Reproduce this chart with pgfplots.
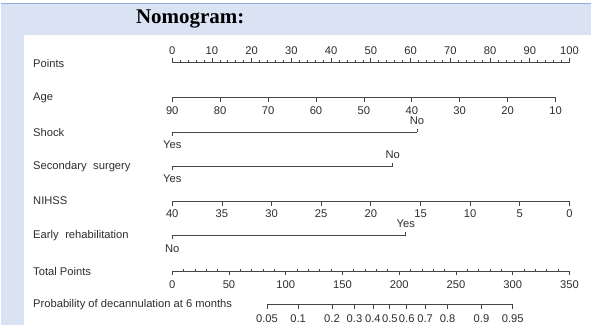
\documentclass[border=0pt]{standalone}
\usepackage{pgfplots}
\pgfplotsset{compat=1.18}
\usepackage{pgfplotstable}
\usepackage{fontspec}
\setmainfont{Liberation Sans}
\newfontfamily\titlefont{Liberation Serif}
\definecolor{bgblue}{HTML}{DAE3F3}
\definecolor{topline}{HTML}{8FAADC}
\definecolor{ink}{HTML}{2E2E2E}
\definecolor{lineink}{HTML}{444444}

% Points scale (v = value, k = 1 major / 0 minor)
\pgfplotstableread{
v k
0 1
10 1
20 1
30 1
40 1
50 1
60 1
70 1
80 1
90 1
100 1
}\ptsmaj
\pgfplotstableread{
v k
2 0
4 0
6 0
8 0
12 0
14 0
16 0
18 0
22 0
24 0
26 0
28 0
32 0
34 0
36 0
38 0
42 0
44 0
46 0
48 0
52 0
54 0
56 0
58 0
62 0
64 0
66 0
68 0
72 0
74 0
76 0
78 0
82 0
84 0
86 0
88 0
92 0
94 0
96 0
98 0
}\ptsmin
% Age
\pgfplotstableread{
v k
90 1
80 1
70 1
60 1
50 1
40 1
30 1
20 1
10 1
}\agetab
% NIHSS
\pgfplotstableread{
v k
40 1
35 1
30 1
25 1
20 1
15 1
10 1
5 1
0 1
}\nihss
% Binary predictors: label, points, side (1 below, -1 above)
\pgfplotstableread{
lab pts d
Yes 0 1
No 61.6 -1
}\shock
\pgfplotstableread{
lab pts d
Yes 0 1
No 55.5 -1
}\secsurg
\pgfplotstableread{
lab pts d
No 0 1
Yes 58.8 -1
}\rehab
% Total points
\pgfplotstableread{
v k
0 1
50 1
100 1
150 1
200 1
250 1
300 1
350 1
}\totmaj
\pgfplotstableread{
v k
10 0
20 0
30 0
40 0
60 0
70 0
80 0
90 0
110 0
120 0
130 0
140 0
160 0
170 0
180 0
190 0
210 0
220 0
230 0
240 0
260 0
270 0
280 0
290 0
310 0
320 0
330 0
340 0
}\totmin
% Probability
\pgfplotstableread{
v k
0.05 1
0.1 1
0.2 1
0.3 1
0.4 1
0.5 1
0.6 1
0.7 1
0.8 1
0.9 1
0.95 1
}\prob

\begin{document}
\begin{tikzpicture}[x=1pt,y=1pt,
  rowlab/.style={anchor=west, inner sep=0pt, font=\fontsize{11.2}{13}\selectfont, text=ink}]
\fill[white] (0,0) rectangle (592,326);
\fill[bgblue] (0,0) rectangle (592,322.3);
\draw[topline, line width=1.1pt] (0,322.3) -- (592,322.3);
\fill[white] (23,0) rectangle (592,291);
\node[font=\titlefont\bfseries\fontsize{21}{24}\selectfont, text=black] at (190,307.5) {Nomogram:};
\begin{axis}[
  at={(0,0)}, anchor=south west,
  hide axis, scale only axis, width=592pt, height=326pt,
  xmin=0, xmax=592, ymin=0, ymax=326, y dir=reverse,
  clip=false,
  axline/.style={lineink, line width=0.75pt, mark=none},
  tk/.style={lineink, only marks, mark=|, mark size=2.2pt, mark options={line width=0.75pt}},
  lbl/.style={only marks, mark=none, nodes near coords, point meta=explicit symbolic,
    every node near coord/.style={anchor=center, inner sep=0pt, font=\fontsize{11.2}{13}\selectfont, text=ink}},
]
% ---- Points
\addplot[axline] table[x expr=172+3.98*\thisrow{v}, y expr=62.5]{\ptsmaj};
\addplot[tk] table[x expr=172+3.98*\thisrow{v}, y expr=62.5-2.2]{\ptsmaj};
\addplot[tk, mark size=1.3pt] table[x expr=172+3.98*\thisrow{v}, y expr=62.5-1.3]{\ptsmin};
\addplot[lbl] table[x expr=172+3.98*\thisrow{v}, y expr=51, meta=v]{\ptsmaj};
\node[rowlab] at (axis cs:32.5,63.5) {Points};
% ---- Age
\addplot[axline] table[x expr=172+4.8*(90-\thisrow{v}), y expr=98]{\agetab};
\addplot[tk] table[x expr=172+4.8*(90-\thisrow{v}), y expr=98+2.2]{\agetab};
\addplot[lbl] table[x expr=172+4.8*(90-\thisrow{v}), y expr=110.5, meta=v]{\agetab};
\node[rowlab] at (axis cs:32.5,98) {Age};
% ---- Shock
\addplot[axline] table[x expr=172+3.98*\thisrow{pts}, y expr=132.5]{\shock};
\addplot[tk, mark size=1.8pt] table[x expr=172+3.98*\thisrow{pts}, y expr=132.5+1.8*\thisrow{d}]{\shock};
\addplot[lbl] table[x expr=172+3.98*\thisrow{pts}, y expr=133.2+11.8*\thisrow{d}, meta=lab]{\shock};
\node[rowlab] at (axis cs:32.5,132.5) {Shock};
% ---- Secondary surgery
\addplot[axline] table[x expr=172+3.98*\thisrow{pts}, y expr=167]{\secsurg};
\addplot[tk, mark size=1.8pt] table[x expr=172+3.98*\thisrow{pts}, y expr=167+1.8*\thisrow{d}]{\secsurg};
\addplot[lbl] table[x expr=172+3.98*\thisrow{pts}, y expr=167+12.5*\thisrow{d}, meta=lab]{\secsurg};
\node[rowlab] at (axis cs:32.5,167) {Secondary\hspace{3.5pt} surgery};
% ---- NIHSS
\addplot[axline] table[x expr=172+9.95*(40-\thisrow{v}), y expr=202]{\nihss};
\addplot[tk] table[x expr=172+9.95*(40-\thisrow{v}), y expr=202+2.2]{\nihss};
\addplot[lbl] table[x expr=172+9.95*(40-\thisrow{v}), y expr=214.5, meta=v]{\nihss};
\node[rowlab] at (axis cs:32.5,201.5) {NIHSS};
% ---- Early rehabilitation
\addplot[axline] table[x expr=172+3.98*\thisrow{pts}, y expr=236]{\rehab};
\addplot[tk, mark size=1.8pt] table[x expr=172+3.98*\thisrow{pts}, y expr=236+1.8*\thisrow{d}]{\rehab};
\addplot[lbl] table[x expr=172+3.98*\thisrow{pts}, y expr=236.5+12.5*\thisrow{d}, meta=lab]{\rehab};
\node[rowlab] at (axis cs:32.5,236) {Early\hspace{3.5pt} rehabilitation};
% ---- Total Points
\addplot[axline] table[x expr=172+1.137*\thisrow{v}, y expr=272]{\totmaj};
\addplot[tk] table[x expr=172+1.137*\thisrow{v}, y expr=272+1.6]{\totmaj};
\addplot[tk, mark size=1.2pt] table[x expr=172+1.137*\thisrow{v}, y expr=272-1.2]{\totmin};
\addplot[lbl] table[x expr=172+1.137*\thisrow{v}, y expr=285.5, meta=v]{\totmaj};
\node[rowlab] at (axis cs:32.5,272) {Total Points};
% ---- Probability
\addplot[axline] table[x expr=390+41.8*ln(\thisrow{v}/(1-\thisrow{v})), y expr=305]{\prob};
\addplot[tk] table[x expr=390+41.8*ln(\thisrow{v}/(1-\thisrow{v})), y expr=305+2.2]{\prob};
\addplot[lbl] table[x expr=390+41.8*ln(\thisrow{v}/(1-\thisrow{v})), y expr=319, meta=v]{\prob};
\node[rowlab] at (axis cs:32.5,305) {Probability of decannulation at 6 months};
\end{axis}
\end{tikzpicture}
\end{document}
